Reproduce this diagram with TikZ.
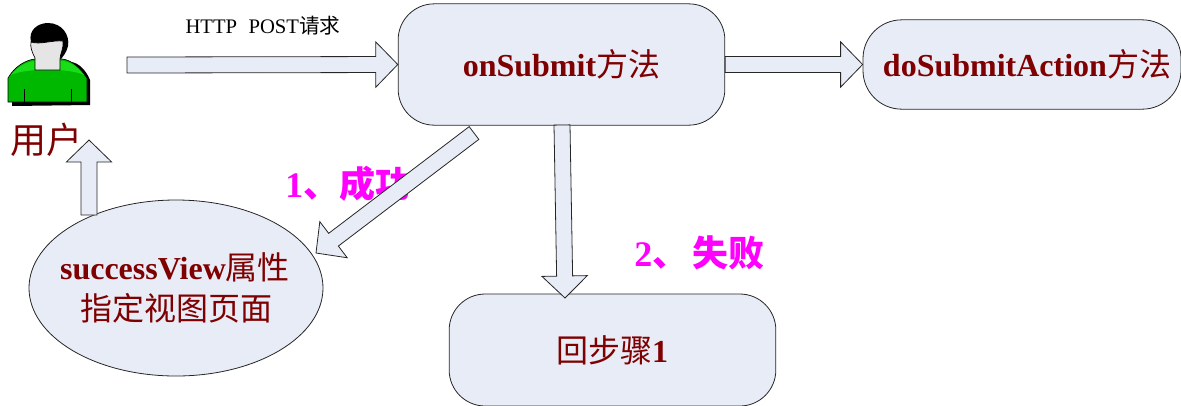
\documentclass[tikz,border=0pt]{standalone}
\usepackage{fontspec}
\usetikzlibrary{calc,shapes.geometric}
\setmainfont{Liberation Serif}
\newfontfamily\cjk{Noto Sans CJK SC}
\definecolor{boxfill}{HTML}{E8ECF6}
\definecolor{darkred}{HTML}{7F0000}
\definecolor{magentatxt}{HTML}{FF00FF}
\newcommand{\blockarrow}[3]{% tail, tip, shaft half-width
  \coordinate (hb) at ($(#2)!16.5pt!(#1)$);
  \draw[arrowbody]
    ($(#1)!#3!90:(#2)$) -- ($(hb)!#3!90:(#2)$) -- ($(hb)!17pt!90:(#2)$) -- (#2)
    -- ($(hb)!17pt!-90:(#2)$) -- ($(hb)!#3!-90:(#2)$) -- ($(#1)!#3!-90:(#2)$) -- cycle;}
\tikzset{
  x=0.75pt,y=-0.75pt,
  arrowbody/.style={draw=black!85,fill=boxfill,line width=0.6pt,line join=miter},
  roundbox/.style={draw=black!85,fill=boxfill,line width=0.6pt,rounded corners=#1,inner sep=0pt},
  title/.style={text=darkred,font=\bfseries\fontsize{24}{27}\selectfont,inner sep=0pt},
  steplabel/.style={text=magentatxt,font=\bfseries\fontsize{27}{29}\selectfont,inner sep=0pt},
}
\newcommand{\cjkm}{\mdseries\cjk}
\begin{document}
\begin{tikzpicture}
\path[use as bounding box,clip] (0,0) rectangle (1181,405);
% step labels (arrows pass above them)
\node[steplabel,anchor=west] (ok) at (285,184) {1\cjk 、成功};
\node[steplabel,anchor=west] (fail) at (634,253) {2\cjk 、\hspace{3pt}失败};
% boxes
\node[roundbox=27pt,minimum width=245pt,minimum height=91pt] (submit) at (561.5,64.5) {};
\node[roundbox=29pt,minimum width=238.5pt,minimum height=67pt] (action) at (1022,64.5) {};
\node[roundbox=27pt,minimum width=245pt,minimum height=84pt] (back) at (612.5,350) {};
\node[ellipse,draw=black!85,fill=boxfill,line width=0.6pt,minimum width=220.5pt,minimum height=132pt,inner sep=0pt] (view) at (176,288) {};
% box texts
\node[title] (submitT) at (561.5,64) {onSubmit\cjkm 方法};
\node[title] (actionT) at (1027,64) {doSubmitAction\cjkm 方法};
\node[title] (backT) at (612,350) {\cjkm 回步骤\rmfamily\bfseries 1};
\node[title] (viewA) at (175,267) {successView\cjkm 属性};
\node[title] (viewB) at (176,308) {\cjkm 指定视图页面};
% free ends
\coordinate (u0) at (127,65);
\coordinate (d0) at (474,133);
\coordinate (d1) at (316,253);
\coordinate (f0) at (562,125);
\coordinate (f1) at (565,298);
\coordinate (v0) at (89,215);
\coordinate (v1) at (89,140);
\blockarrow{u0}{submit.west}{6pt}
\blockarrow{submit.east}{action.west}{6pt}
\blockarrow{d0}{d1}{6pt}
\blockarrow{f0}{f1}{6pt}
\blockarrow{v0}{v1}{6pt}
% user figure
\fill[black] (12,106) -- (12,80) .. controls (20,66) and (32,62) .. (40,62) -- (70,62)
  .. controls (78,62) and (86,70) .. (90,80) -- (90,105) -- cycle;
\fill[black] (31,42) .. controls (28,30) and (38,23) .. (48,23) .. controls (62,23) and (70,35) .. (68,46)
  .. controls (67,52) and (62,58) .. (60,60) -- (40,60) -- cycle;
\path[draw=black,fill=green!72!black,line width=0.5pt] (8,102) -- (8,78) .. controls (15,66) and (26,60) .. (35,59)
  -- (62,59) .. controls (72,60) and (80,68) .. (87,78) -- (87,102) -- cycle;
\fill[green!85!black!90!white] (11,75) .. controls (18,66) and (27,62) .. (35,61) -- (62,61) .. controls (71,62) and (78,67) .. (84,75)
  .. controls (70,68) and (25,68) .. (11,75) -- cycle;
\draw[black,line width=0.5pt] (24,89) -- (24,102) (71,89) -- (71,102);
\draw[black,fill=black!10,line width=0.5pt] (35,70) -- (35,58) .. controls (32,52) and (30,47) .. (31,42)
  .. controls (40,45) and (52,40) .. (63,41) .. controls (64,48) and (60,54) .. (60,59) -- (60,70) -- cycle;
% texts
\node[inner sep=0pt,text=darkred,font=\cjk\fontsize{27}{30}\selectfont] (user) at (46,140) {用户};
\node[inner sep=0pt,text=black,font=\fontsize{15.5}{17}\selectfont] (post) at (263,26) {HTTP\hspace{0.55em}POST\cjk 请求};
\end{tikzpicture}
\end{document}
